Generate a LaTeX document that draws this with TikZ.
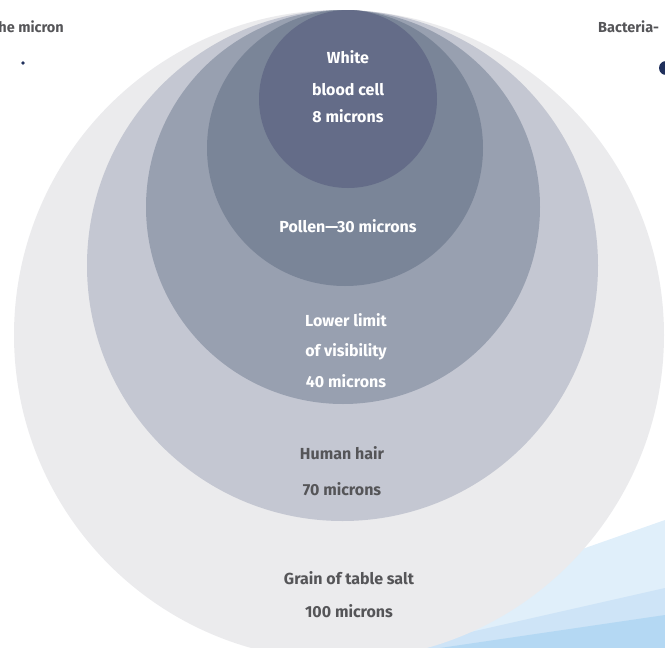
\documentclass[tikz,border=0pt]{standalone}
\usepackage{fontspec}
\setmainfont{Fira Sans}
\definecolor{salt}{RGB}{235,235,237}
\definecolor{hair}{RGB}{196,199,210}
\definecolor{vis}{RGB}{152,160,176}
\definecolor{pollen}{RGB}{122,133,152}
\definecolor{wbc}{RGB}{100,108,136}
\definecolor{txtdark}{RGB}{85,85,88}
\definecolor{navy}{RGB}{32,48,92}
\definecolor{blueA}{RGB}{224,239,250}
\definecolor{blueB}{RGB}{206,228,247}
\definecolor{blueC}{RGB}{180,216,243}
\begin{document}
\begin{tikzpicture}[x=1pt,y=-1pt,
  lab/.style={font=\fontsize{16}{16}\selectfont\bfseries, inner sep=0pt},
  wlab/.style={lab, text=white},
  dlab/.style={lab, text=txtdark},
  toplab/.style={font=\fontsize{14.5}{14.5}\selectfont\bfseries, inner sep=0pt, text=txtdark}]
\useasboundingbox (0,0) rectangle (665,648);
% blue bands
\fill[blueA] (300,648) -- (665,520) -- (665,648) -- cycle;
\fill[blueB] (400,648) -- (665,588) -- (665,648) -- cycle;
\fill[blueC] (440,648) -- (665,615) -- (665,648) -- cycle;
% circles
\fill[salt] (339,335) circle (325);
\fill[hair] (342.5,265.5) circle (255.5);
\fill[vis] (343,207) circle (197);
\fill[pollen] (345,148) circle (138);
\fill[wbc] (348,99) circle (89);
% dots
\fill[navy] (23,63) circle (1.8);
\fill[navy] (666,68) circle (7);
% labels
\node[wlab] (w1) at (348,57) {White};
\node[wlab] (w2) at (348,90) {blood cell};
\node[wlab] (w3) at (348,116) {8 microns};
\node[wlab] (p1) at (348,226) {Pollen—30 microns};
\node[wlab] (v1) at (346,320) {Lower limit};
\node[wlab] (v2) at (346,352) {of visibility};
\node[wlab] (v3) at (346,381) {40 microns};
\node[dlab] (h1) at (342,453) {Human hair};
\node[dlab] (h2) at (342,489) {70 microns};
\node[dlab] (s1) at (349,578) {Grain of table salt};
\node[dlab] (s2) at (349,611) {100 microns};
\node[toplab, anchor=east] (m1) at (64,27) {he micron};
\node[toplab, anchor=west] (b1) at (598,27) {Bacteria-};
\end{tikzpicture}
\end{document}
